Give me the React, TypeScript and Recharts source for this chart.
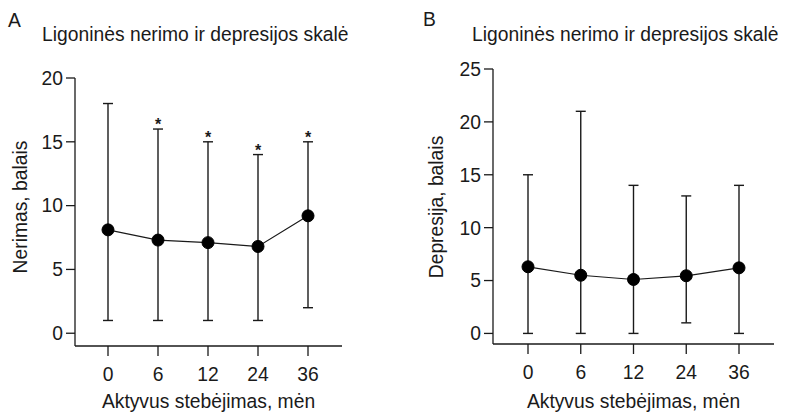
import { LineChart, Line, XAxis, YAxis, ErrorBar, LabelList } from "recharts"

const months = ["0", "6", "12", "24", "36"]

// Nerimas (anxiety)
const anxietyMean = [8.1, 7.3, 7.1, 6.8, 9.2]
const anxietyLow = [1, 1, 1, 1, 2]
const anxietyHigh = [18, 16, 15, 14, 15]
const anxietyMarks = ["", "*", "*", "*", "*"]

// Depresija (depression)
const depressionMean = [6.3, 5.5, 5.1, 5.45, 6.2]
const depressionLow = [0, 0, 0, 1, 0]
const depressionHigh = [15, 21, 14, 13, 14]
const depressionMarks = ["", "", "", "", ""]

const anxietyTicks = [0, 5, 10, 15, 20]
const depressionTicks = [0, 5, 10, 15, 20, 25]

const FONT = "'Liberation Sans', Arial, sans-serif"
const FS = 19.3
const INK = "#1a1a1a"

type Row = { month: string; mean: number; hi: number; err: [number, number]; mark: string }

const buildRows = (mean: number[], lo: number[], hi: number[], marks: string[]): Row[] =>
    months.map((m, i) => ({
        month: m,
        mean: mean[i],
        hi: hi[i],
        err: [mean[i] - lo[i], hi[i] - mean[i]],
        mark: marks[i],
    }))

const anxietyRows = buildRows(anxietyMean, anxietyLow, anxietyHigh, anxietyMarks)
const depressionRows = buildRows(depressionMean, depressionLow, depressionHigh, depressionMarks)

const tickStyle = { fontSize: FS, fill: INK, fontFamily: FONT }

// significance star sitting just above the upper whisker
const Star = (props: any) => {
    const { x, y, value } = props
    if (!value) return null
    return <text x={x} y={y + 1} textAnchor="middle" fontSize={16} fontWeight="bold" fill={INK} fontFamily={FONT}>{value}</text>
}

type PanelProps = {
    rows: Row[]
    ticks: number[]
    domain: [number, number]
    yLabel: string
    yLabelX: number
    margin: { top: number; right: number }
    yWidth: number
    xHeight: number
    pad: { left: number; right: number }
}

function Panel({ rows, ticks, domain, yLabel, yLabelX, margin, yWidth, xHeight, pad }: PanelProps) {
    const plotLeft = yWidth
    const plotRight = 400 - margin.right
    return <LineChart width={400} height={412} data={rows} margin={{ top: margin.top, right: margin.right, left: 0, bottom: 0 }}>
        <XAxis dataKey="month" height={xHeight} padding={pad} tick={tickStyle} tickSize={10} tickMargin={11}
            stroke={INK} strokeWidth={1.3} tickLine={{ stroke: INK, strokeWidth: 1.3 }}
            label={() => <text x={(plotLeft + plotRight) / 2} y={408} textAnchor="middle" fontSize={FS} fill={INK} fontFamily={FONT}>Aktyvus stebėjimas, mėn</text>} />
        <YAxis type="number" domain={domain} ticks={ticks} allowDataOverflow width={yWidth} tick={tickStyle} tickSize={9} tickMargin={3}
            stroke={INK} strokeWidth={1.3} tickLine={{ stroke: INK, strokeWidth: 1.3 }}
            label={() => <text x={yLabelX} y={207} transform={`rotate(-90 ${yLabelX} 207)`} textAnchor="middle" fontSize={FS} fill={INK} fontFamily={FONT}>{yLabel}</text>} />
        <Line dataKey="hi" stroke="none" dot={false} activeDot={false} isAnimationActive={false}>
            <LabelList dataKey="mark" content={Star} />
        </Line>
        <Line dataKey="mean" stroke={INK} strokeWidth={1.2} isAnimationActive={false}
            dot={{ r: 6, fill: "#000", stroke: "#000", strokeWidth: 1 }} activeDot={false}>
            <ErrorBar dataKey="err" direction="y" width={5} stroke={INK} strokeWidth={1.4} isAnimationActive={false} />
        </Line>
    </LineChart>
}

const textBase = { position: "absolute" as const, fontFamily: FONT, fontSize: FS, color: INK, lineHeight: 1, whiteSpace: "nowrap" as const }

export default function App() {
    return <div style={{ position: "absolute", left: 0, top: 0, width: 800, height: 412, background: "#fff" }}>
        <div style={{ position: "absolute", left: 0, top: 0 }}>
            <Panel rows={anxietyRows} ticks={anxietyTicks} domain={[-1, 20]} yLabel="Nerimas, balais" yLabelX={27}
                margin={{ top: 78, right: 58 }} yWidth={75} xHeight={66} pad={{ left: 33, right: 34 }} />
        </div>
        <div style={{ position: "absolute", left: 400, top: 0 }}>
            <Panel rows={depressionRows} ticks={depressionTicks} domain={[-1, 25]} yLabel="Depresija, balais" yLabelX={43}
                margin={{ top: 69, right: 26 }} yWidth={93} xHeight={68} pad={{ left: 35, right: 35 }} />
        </div>
        <div style={{ ...textBase, left: 8, top: 11 }}>A</div>
        <div style={{ ...textBase, left: 42, top: 25 }}>Ligoninės nerimo ir depresijos skalė</div>
        <div style={{ ...textBase, left: 423, top: 10 }}>B</div>
        <div style={{ ...textBase, left: 472, top: 25 }}>Ligoninės nerimo ir depresijos skalė</div>
    </div>
}
